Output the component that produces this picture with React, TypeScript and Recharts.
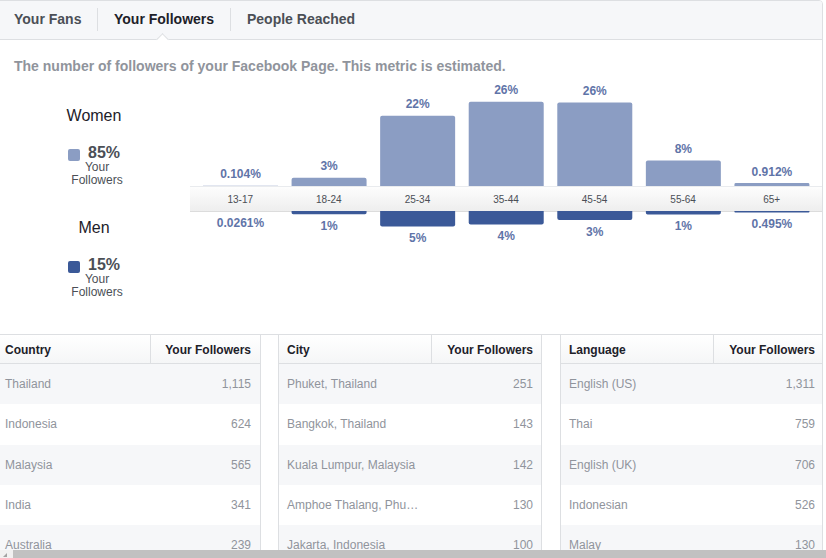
import React from "react";
import { Bar, BarChart, LabelList, XAxis, YAxis } from "recharts";

const ageGroups = ["13-17", "18-24", "25-34", "35-44", "45-54", "55-64", "65+"];
const womenShare = [0.104, 2.6, 21.8, 26.2, 25.9, 7.9, 0.912];
const menShare = [0.0261, 1.0, 4.8, 4.2, 2.8, 1.1, 0.495];

const genderNames = ["Women", "Men"];
const genderTotals = [85, 15];
const genderColors = ["#8b9dc3", "#3b5998"];

const tabs = ["Your Fans", "Your Followers", "People Reached"];
const activeTab = 1;
const subtitle =
  "The number of followers of your Facebook Page. This metric is estimated.";

const countries = ["Thailand", "Indonesia", "Malaysia", "India", "Australia"];
const countryFollowers = [1115, 624, 565, 341, 239];
const cities = [
  "Phuket, Thailand",
  "Bangkok, Thailand",
  "Kuala Lumpur, Malaysia",
  "Amphoe Thalang, Phu…",
  "Jakarta, Indonesia",
];
const cityFollowers = [251, 143, 142, 130, 100];
const languages = ["English (US)", "Thai", "English (UK)", "Indonesian", "Malay"];
const languageFollowers = [1311, 759, 706, 526, 130];

const ageRows = ageGroups.map((age, i) => ({
  age,
  women: womenShare[i],
  men: menShare[i],
}));

const FONT = '"Liberation Sans", Arial, Helvetica, sans-serif';
const BORDER = "#dddfe2";
const LABEL_COLOR = "#5f74a8";
const PX_PER_PCT = 3.22;
const CHART_LEFT = 196;
const CHART_W = 620;
const WOMEN_H = 106;
const AXIS_H = 25;
const MEN_H = 45;

const fmtPct = (v: number) => (v < 1 ? `${v}%` : `${Math.round(v)}%`);

function barBox(props: any) {
  const vb = props.viewBox && props.viewBox.width !== undefined ? props.viewBox : props;
  const x = Number(vb.x);
  const y = Number(vb.y);
  const w = Number(vb.width);
  const h = Number(vb.height);
  return { cx: x + w / 2, top: Math.min(y, y + h), bottom: Math.max(y, y + h) };
}

const WomenLabel = (props: any) => {
  const { cx, top } = barBox(props);
  return (
    <text x={cx} y={top - 7.5} textAnchor="middle" fill={LABEL_COLOR} fontSize={12} fontWeight="bold" fontFamily={FONT}>
      {fmtPct(Number(props.value))}
    </text>
  );
};

const MenLabel = (props: any) => {
  const { cx, bottom } = barBox(props);
  return (
    <text x={cx} y={bottom + 15.5} textAnchor="middle" fill={LABEL_COLOR} fontSize={12} fontWeight="bold" fontFamily={FONT}>
      {fmtPct(Number(props.value))}
    </text>
  );
};

const tabLeft = [14, 114, 247];
const tabSeparators = [97, 230];

const tableLayout = [
  { left: -1, right: 261, divider: 150, textLeft: 5, valueRight: 251 },
  { left: 278, right: 542, divider: 431, textLeft: 287, valueRight: 533 },
  { left: 560, right: 823, divider: 713, textLeft: 569, valueRight: 815 },
];

const tables = [
  { title: "Country", names: countries, values: countryFollowers },
  { title: "City", names: cities, values: cityFollowers },
  { title: "Language", names: languages, values: languageFollowers },
];

function StatTable({ index }: { index: number }) {
  const lay = tableLayout[index];
  const t = tables[index];
  const inner = lay.right - lay.left - 2;
  const nameX = lay.textLeft - lay.left - 1;
  const valueR = inner - (lay.valueRight - lay.left - 1);
  const divX = lay.divider - lay.left - 1;
  const rowH = 40.25;
  return (
    <div
      style={{
        position: "absolute",
        left: lay.left,
        top: 335,
        width: lay.right - lay.left,
        height: 240,
        boxSizing: "border-box",
        borderLeft: `1px solid ${BORDER}`,
        borderRight: `1px solid ${BORDER}`,
        overflow: "hidden",
        fontSize: 12,
      }}
    >
      <div
        style={{
          position: "absolute",
          left: 0,
          top: 0,
          width: inner,
          height: 28,
          background: "linear-gradient(#ffffff, #f5f6f7)",
          borderBottom: `1px solid ${BORDER}`,
          fontWeight: "bold",
          color: "#1d2129",
          lineHeight: "30px",
        }}
      >
        <span style={{ position: "absolute", left: nameX }}>{t.title}</span>
        <div style={{ position: "absolute", left: divX, top: 0, width: 1, height: 28, background: BORDER }} />
        <span style={{ position: "absolute", right: valueR }}>Your Followers</span>
      </div>
      {t.names.map((name, i) => (
        <div
          key={name}
          style={{
            position: "absolute",
            left: 0,
            top: 29 + i * rowH,
            width: inner,
            height: rowH,
            background: i % 2 === 0 ? "#f6f7f9" : "#ffffff",
            color: "#90949c",
            lineHeight: `${rowH}px`,
          }}
        >
          <span style={{ position: "absolute", left: nameX }}>{name}</span>
          <span style={{ position: "absolute", right: valueR }}>
            {t.values[i].toLocaleString("en-US")}
          </span>
        </div>
      ))}
    </div>
  );
}

export default function App() {
  return (
    <div
      style={{
        position: "absolute",
        left: 0,
        top: 0,
        width: 826,
        height: 558,
        overflow: "hidden",
        background: "#ffffff",
        fontFamily: FONT,
      }}
    >
      {/* panel frame */}
      <div
        style={{
          position: "absolute",
          left: -1,
          top: 0,
          width: 824,
          height: 600,
          boxSizing: "border-box",
          border: `1px solid ${BORDER}`,
          borderTopRightRadius: 4,
          overflow: "hidden",
        }}
      >
        <div
          style={{
            position: "absolute",
            left: 0,
            top: 0,
            width: 822,
            height: 38,
            background: "#f6f7f9",
            borderBottom: `1px solid ${BORDER}`,
          }}
        />
      </div>

      {/* tabs */}
      {tabs.map((tab, i) => (
        <div
          key={tab}
          style={{
            position: "absolute",
            left: tabLeft[i],
            top: 11,
            fontSize: 14,
            lineHeight: "16px",
            fontWeight: "bold",
            color: i === activeTab ? "#1d2129" : "#4b4f56",
            whiteSpace: "nowrap",
          }}
        >
          {tab}
        </div>
      ))}
      {tabSeparators.map((x) => (
        <div key={x} style={{ position: "absolute", left: x, top: 8, width: 1, height: 23, background: BORDER }} />
      ))}
      <div
        style={{
          position: "absolute",
          left: 158,
          top: 35,
          width: 8,
          height: 8,
          background: "#ffffff",
          borderLeft: `1px solid ${BORDER}`,
          borderTop: `1px solid ${BORDER}`,
          transform: "rotate(45deg)",
        }}
      />

      <div
        style={{
          position: "absolute",
          left: 14,
          top: 58,
          fontSize: 14,
          lineHeight: "16px",
          fontWeight: "bold",
          color: "#90949c",
          whiteSpace: "nowrap",
        }}
      >
        {subtitle}
      </div>

      {/* gender legend */}
      {genderNames.map((g, i) => {
        const top = 107 + i * 112;
        return (
          <div key={g}>
            <div style={{ position: "absolute", left: 54, width: 80, top, textAlign: "center", fontSize: 16, lineHeight: "18px", color: "#1d2129" }}>
              {g}
            </div>
            <div style={{ position: "absolute", left: 68, top: top + 42, width: 12, height: 12, borderRadius: 2, background: genderColors[i] }} />
            <div style={{ position: "absolute", left: 88, top: top + 37, fontSize: 16, lineHeight: "18px", fontWeight: "bold", color: "#4b4f56" }}>
              {genderTotals[i]}%
            </div>
            <div style={{ position: "absolute", left: 57, width: 80, top: top + 54, textAlign: "center", fontSize: 12, lineHeight: "13px", color: "#4b4f56" }}>
              Your
              <br />
              Followers
            </div>
          </div>
        );
      })}

      {/* axis band */}
      <div
        style={{
          position: "absolute",
          left: 190,
          top: 186,
          width: 632,
          height: 26,
          boxSizing: "border-box",
          background: "linear-gradient(#fdfdfd, #eeeeee)",
          borderTop: "1px solid #e9ebee",
          borderBottom: "1px solid #dcdcdc",
        }}
      />

      <div style={{ position: "absolute", left: CHART_LEFT, top: 186 - WOMEN_H }}>
        <BarChart width={CHART_W} height={WOMEN_H} data={ageRows} margin={{ top: 0, right: 0, bottom: 0, left: 0 }} barCategoryGap={0}>
          <XAxis dataKey="age" hide />
          <YAxis hide domain={[0, WOMEN_H / PX_PER_PCT]} />
          <Bar dataKey="women" fill={genderColors[0]} barSize={75} radius={[2, 2, 0, 0]} isAnimationActive={false}>
            <LabelList dataKey="women" content={WomenLabel} />
          </Bar>
        </BarChart>
      </div>

      <div style={{ position: "absolute", left: CHART_LEFT, top: 186 }}>
        <BarChart width={CHART_W} height={AXIS_H + MEN_H} data={ageRows} margin={{ top: 0, right: 0, bottom: 0, left: 0 }} barCategoryGap={0}>
          <XAxis
            dataKey="age"
            orientation="top"
            height={AXIS_H}
            axisLine={false}
            tickLine={false}
            tickMargin={2}
            interval={0}
            tick={{ fill: "#4b4f56", fontSize: 10, fontFamily: FONT }}
          />
          <YAxis hide reversed domain={[0, MEN_H / PX_PER_PCT]} />
          <Bar dataKey="men" fill={genderColors[1]} barSize={75} radius={[2, 2, 0, 0]} isAnimationActive={false}>
            <LabelList dataKey="men" content={MenLabel} />
          </Bar>
        </BarChart>
      </div>

      {/* lower tables */}
      <div style={{ position: "absolute", left: 0, top: 334, width: 822, height: 1, background: BORDER }} />
      {tables.map((t, i) => (
        <StatTable key={t.title} index={i} />
      ))}

      {/* horizontal scrollbar */}
      <div style={{ position: "absolute", left: 0, top: 550, width: 826, height: 8, background: "#f1f1f1" }}>
        <div style={{ position: "absolute", left: 13, top: 0, width: 813, height: 8, background: "#c1c1c1" }} />
        <div
          style={{
            position: "absolute",
            left: 3,
            top: 3,
            width: 0,
            height: 0,
            borderLeft: "4px solid transparent",
            borderBottom: "4px solid #a3a3a3",
          }}
        />
      </div>
    </div>
  );
}
